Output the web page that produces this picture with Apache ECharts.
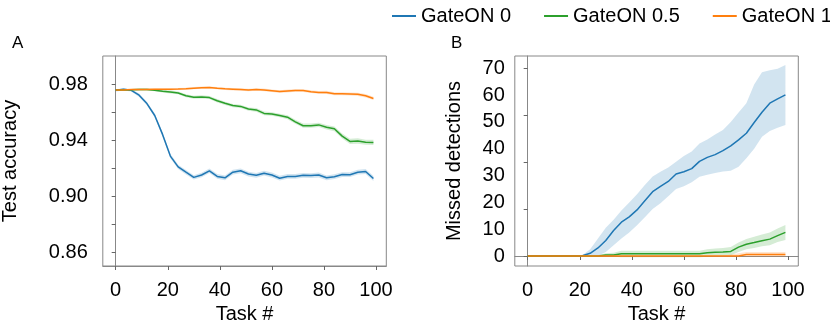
<!DOCTYPE html>
<html>
<head>
<meta charset="utf-8">
<script src="https://cdn.jsdelivr.net/npm/echarts@6/dist/echarts.min.js"></script>
<style>
  html, body { margin: 0; padding: 0; background: #fff; }
  #main { width: 830px; height: 322px; }
</style>
</head>
<body>
<div id="main"></div>
<script>
// task index (x), sampled every 3 tasks
const tasks = [0, 3, 6, 9, 12, 15, 18, 21, 24, 27, 30, 33, 36, 39, 42, 45, 48, 51, 54, 57, 60, 63, 66, 69, 72, 75, 78, 81, 84, 87, 90, 93, 96, 99]

// panel A: test accuracy (mean and half width of the shaded band)
const accGate0 = [0.9755, 0.9762, 0.9755, 0.9720, 0.9660, 0.9575, 0.9440, 0.9285, 0.9208, 0.9170, 0.9133, 0.9150, 0.9180, 0.9140, 0.9130, 0.9170, 0.9180, 0.9157, 0.9148, 0.9163, 0.9150, 0.9127, 0.9140, 0.9140, 0.9148, 0.9146, 0.9150, 0.9130, 0.9138, 0.9153, 0.9152, 0.9170, 0.9175, 0.9125]
const accSpread0 = [0.0008, 0.0008, 0.0008, 0.0012, 0.0012, 0.0014, 0.0016, 0.0016, 0.0016, 0.0016, 0.0016, 0.0016, 0.0016, 0.0017, 0.0017, 0.0017, 0.0017, 0.0017, 0.0017, 0.0017, 0.0017, 0.0017, 0.0017, 0.0017, 0.0017, 0.0017, 0.0017, 0.0017, 0.0017, 0.0017, 0.0017, 0.0017, 0.0018, 0.0018]
const accGate05 = [0.9757, 0.9758, 0.9759, 0.9760, 0.9760, 0.9756, 0.9748, 0.9743, 0.9736, 0.9716, 0.9705, 0.9708, 0.9703, 0.9680, 0.9662, 0.9646, 0.9640, 0.9621, 0.9615, 0.9590, 0.9586, 0.9575, 0.9563, 0.9530, 0.9502, 0.9502, 0.9508, 0.9491, 0.9480, 0.9428, 0.9390, 0.9393, 0.9384, 0.9383]
const accSpread05 = [0.0006, 0.0006, 0.0006, 0.0007, 0.0007, 0.0008, 0.0009, 0.0010, 0.0010, 0.0010, 0.0011, 0.0011, 0.0011, 0.0012, 0.0012, 0.0012, 0.0012, 0.0012, 0.0013, 0.0013, 0.0013, 0.0013, 0.0014, 0.0014, 0.0015, 0.0015, 0.0015, 0.0016, 0.0017, 0.0018, 0.0019, 0.0019, 0.0018, 0.0018]
const accGate1 = [0.9757, 0.9758, 0.9760, 0.9760, 0.9761, 0.9762, 0.9762, 0.9763, 0.9764, 0.9766, 0.9770, 0.9774, 0.9775, 0.9770, 0.9766, 0.9763, 0.9760, 0.9757, 0.9760, 0.9758, 0.9752, 0.9746, 0.9750, 0.9754, 0.9753, 0.9745, 0.9740, 0.9740, 0.9730, 0.9730, 0.9729, 0.9726, 0.9716, 0.9697]
const accSpread1 = [0.0005, 0.0005, 0.0005, 0.0006, 0.0006, 0.0006, 0.0006, 0.0007, 0.0007, 0.0007, 0.0008, 0.0008, 0.0008, 0.0008, 0.0008, 0.0009, 0.0009, 0.0009, 0.0009, 0.0009, 0.0009, 0.0010, 0.0010, 0.0010, 0.0010, 0.0010, 0.0010, 0.0011, 0.0011, 0.0011, 0.0011, 0.0012, 0.0012, 0.0012]

// panel B: missed detections (mean, band low, band high)
const missGate0 = [0, 0, 0, 0, 0, 0, 0, 0.1, 1.0, 3.0, 5.8, 9.5, 12.6, 14.6, 17.2, 20.6, 24.0, 26.0, 27.8, 30.6, 31.4, 32.6, 35.3, 36.8, 37.8, 39.3, 41.1, 43.3, 45.8, 49.8, 53.6, 57.0, 58.6, 60.1]
const missLo0 = [0, 0, 0, 0, 0, 0, 0, 0, 0, 0, 1.5, 4.0, 6.5, 8.8, 11.5, 14.5, 17.5, 19.7, 22.3, 25.0, 26.0, 27.5, 29.6, 30.3, 31.0, 31.5, 31.8, 33.3, 36.5, 40.0, 44.5, 46.6, 47.8, 48.9]
const missHi0 = [0, 0, 0, 0, 0, 0, 0, 0.3, 2.5, 6.5, 10.5, 13.5, 17.0, 20.0, 23.0, 26.5, 29.7, 31.4, 33.0, 35.2, 37.3, 39.0, 42.0, 43.5, 45.3, 47.0, 50.0, 53.5, 57.0, 64.0, 68.5, 69.3, 69.8, 71.2]
const missGate05 = [0, 0, 0, 0, 0, 0, 0, 0, 0, 0, 0.4, 0.4, 0.8, 0.8, 0.8, 0.8, 0.8, 0.8, 0.8, 0.8, 0.8, 0.8, 0.8, 1.2, 1.4, 1.5, 1.7, 3.3, 4.4, 5.0, 5.7, 6.3, 7.6, 8.8]
const missLo05 = [0, 0, 0, 0, 0, 0, 0, 0, 0, 0, -0.3, -0.3, -0.5, -0.5, -0.5, -0.5, -0.5, -0.5, -0.5, -0.5, -0.5, -0.5, -0.5, -0.3, 0, 0, 0.3, 1.5, 2.5, 3.0, 3.6, 4.0, 5.2, 6.0]
const missHi05 = [0, 0, 0, 0, 0, 0, 0, 0, 0, 0.3, 1.0, 1.2, 2.0, 2.0, 2.0, 2.0, 2.0, 2.0, 2.0, 2.0, 2.0, 2.0, 2.0, 2.5, 2.8, 3.0, 3.4, 5.0, 6.3, 7.2, 8.0, 8.8, 10.3, 11.6]
const missGate1 = [0, 0, 0, 0, 0, 0, 0, 0, 0, 0, 0, 0, 0, 0, 0, 0, 0, 0, 0, 0, 0, 0, 0, 0, 0, 0, 0, 0, 0.6, 0.6, 0.6, 0.6, 0.6, 0.6]
const missLo1 = [0, 0, 0, 0, 0, 0, 0, 0, 0, 0, 0, 0, 0, 0, 0, 0, 0, 0, 0, 0, 0, 0, 0, 0, 0, 0, -0.1, -0.2, -0.3, -0.3, -0.3, -0.3, -0.3, -0.3]
const missHi1 = [0, 0, 0, 0, 0, 0, 0, 0, 0, 0, 0, 0, 0, 0, 0, 0, 0, 0, 0, 0, 0, 0, 0, 0, 0, 0, 0.6, 1.0, 1.5, 1.5, 1.5, 1.5, 1.5, 1.5]

// ticks and labels
const xTicks = [0, 20, 40, 60, 80, 100]
const accTicks = [0.86, 0.88, 0.90, 0.92, 0.94, 0.96, 0.98]
const accLabels = [0.86, 0.90, 0.94, 0.98]
const missTicks = [0, 17.5, 35, 52.5, 70]
const missLabels = [0, 10, 20, 30, 40, 50, 60, 70]

const names = ['GateON 0', 'GateON 0.5', 'GateON 1']
const colors = ['#1f77b4', '#2ca02c', '#ff7f0e']
const FONT = "'Liberation Sans', Arial, Helvetica, sans-serif"

const chart = echarts.init(document.getElementById('main'))

function lineSeries(i, values, axis) {
  return {
    type: 'line',
    name: names[i],
    xAxisIndex: axis,
    yAxisIndex: axis,
    data: tasks.map((t, k) => [t, values[k]]),
    showSymbol: false,
    z: 3,
    color: colors[i],
    lineStyle: { width: 1.5, color: colors[i] }
  }
}

// shaded band between lo and hi, drawn as one polygon through the axes
function bandSeries(i, lo, hi, axis) {
  return {
    type: 'custom',
    name: names[i],
    xAxisIndex: axis,
    yAxisIndex: axis,
    silent: true,
    z: 1,
    data: [0],
    renderItem(params, api) {
      const pts = tasks.map((t, k) => api.coord([t, hi[k]]))
      for (let k = tasks.length - 1; k >= 0; k--) pts.push(api.coord([tasks[k], lo[k]]))
      return {
        type: 'polygon',
        shape: { points: pts },
        style: { fill: colors[i], opacity: 0.2 }
      }
    }
  }
}

const accLo = (m, s) => m.map((v, k) => v - s[k])
const accHi = (m, s) => m.map((v, k) => v + s[k])

function xAxis(gridIndex) {
  return {
    type: 'value', gridIndex,
    min: -4.95, max: 103.95,
    name: 'Task #', nameLocation: 'middle', nameGap: 28,
    nameTextStyle: { fontSize: 20, color: '#000', fontFamily: FONT },
    axisLine: { show: true, lineStyle: { color: '#888', width: 1 } },
    axisTick: { show: true, length: 4, lineStyle: { color: '#666' }, customValues: xTicks },
    axisLabel: { fontSize: 20, color: '#000', fontFamily: FONT, margin: 14, customValues: xTicks },
    splitLine: { show: false }
  }
}

chart.setOption({
  animation: false,
  textStyle: { fontFamily: FONT },
  legend: {
    data: names,
    left: 392,
    top: 6,
    width: 600,
    padding: 0,
    icon: 'rect',
    itemWidth: 24,
    itemHeight: 2,
    itemGap: 33,
    textStyle: { fontSize: 20, color: '#000', fontFamily: FONT, padding: [6, 0, 0, 0] }
  },
  grid: [
    { left: 102.8, top: 56, width: 283.5, height: 210, outerBoundsMode: 'none', show: true, borderColor: '#888', borderWidth: 1 },
    { left: 514.8, top: 56, width: 283.5, height: 210, outerBoundsMode: 'none', show: true, borderColor: '#888', borderWidth: 1 }
  ],
  xAxis: [xAxis(0), xAxis(1)],
  yAxis: [
    {
      type: 'value', gridIndex: 0,
      min: 0.85, max: 1.0,
      name: 'Test accuracy', nameLocation: 'middle', nameGap: 82,
      nameTextStyle: { fontSize: 20, color: '#000', fontFamily: FONT },
      axisLine: { show: true, lineStyle: { color: '#888', width: 1 } },
      axisTick: { show: true, length: 4, lineStyle: { color: '#666' }, customValues: accTicks },
      axisLabel: { fontSize: 20, color: '#000', fontFamily: FONT, margin: 15, customValues: accLabels, formatter: v => v.toFixed(2) },
      splitLine: { show: false }
    },
    {
      type: 'value', gridIndex: 1,
      min: -3.73, max: 74.6,
      name: 'Missed detections', nameLocation: 'middle', nameGap: 50,
      nameTextStyle: { fontSize: 20, color: '#000', fontFamily: FONT },
      axisLine: { show: true, lineStyle: { color: '#888', width: 1 } },
      axisTick: { show: true, length: 4, lineStyle: { color: '#666' }, customValues: missTicks },
      axisLabel: { fontSize: 20, color: '#000', fontFamily: FONT, margin: 10, customValues: missLabels },
      splitLine: { show: false }
    }
  ],
  graphic: [
    { type: 'text', left: 12, top: 35, style: { text: 'A', font: '17px ' + FONT, fill: '#000' } },
    { type: 'text', left: 451, top: 35, style: { text: 'B', font: '17px ' + FONT, fill: '#000' } }
  ],
  series: [
    lineSeries(0, accGate0, 0),
    lineSeries(1, accGate05, 0),
    lineSeries(2, accGate1, 0),
    lineSeries(0, missGate0, 1),
    lineSeries(1, missGate05, 1),
    lineSeries(2, missGate1, 1),
    bandSeries(0, accLo(accGate0, accSpread0), accHi(accGate0, accSpread0), 0),
    bandSeries(1, accLo(accGate05, accSpread05), accHi(accGate05, accSpread05), 0),
    bandSeries(2, accLo(accGate1, accSpread1), accHi(accGate1, accSpread1), 0),
    bandSeries(0, missLo0, missHi0, 1),
    bandSeries(1, missLo05, missHi05, 1),
    bandSeries(2, missLo1, missHi1, 1)
  ]
})
</script>
</body>
</html>
